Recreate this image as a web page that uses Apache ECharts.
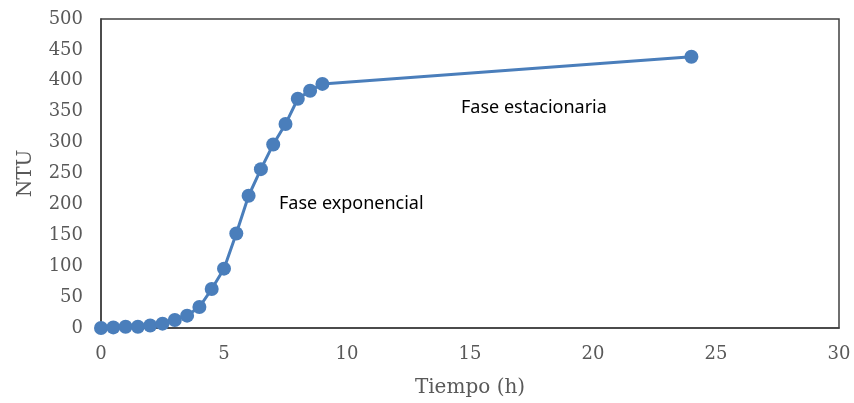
<!DOCTYPE html>
<html>
<head>
<meta charset="utf-8">
<script src="https://cdn.jsdelivr.net/npm/echarts@6/dist/echarts.min.js"></script>
<style>
  html, body { margin: 0; padding: 0; background: #fff; }
  #chart { width: 854px; height: 403px; }
</style>
</head>
<body>
<div id="chart"></div>
<script>
// tiempo (h) y turbidez (NTU)
const tiempo = [0, 0.5, 1, 1.5, 2, 2.5, 3, 3.5, 4, 4.5, 5, 5.5, 6, 6.5, 7, 7.5, 8, 8.5, 9, 24];
const ntu = [0, 1, 2, 2, 4, 7, 13, 20, 34, 63, 96, 153, 214, 257, 297, 330, 371, 384, 395, 439];

const chart = echarts.init(document.getElementById('chart'));

const tickFont = { fontFamily: 'DejaVu Serif', fontSize: 18, color: '#595959' };
const titleFont = { fontFamily: 'DejaVu Serif', fontSize: 20, color: '#595959' };

let option = {
  backgroundColor: '#fff',
  animation: false,
  grid: {
    left: 101, right: 15, top: 19, bottom: 75,
    outerBoundsMode: 'none',
    containLabel: false,
    show: true,
    borderColor: '#404040',
    borderWidth: 1.5
  },
  xAxis: {
    type: 'value',
    min: 0, max: 30, interval: 5,
    name: 'Tiempo (h)',
    nameLocation: 'middle',
    nameGap: 50,
    nameTextStyle: titleFont,
    axisLine: { show: true, lineStyle: { color: '#404040', width: 1.5 } },
    axisTick: { show: false },
    splitLine: { show: false },
    axisLabel: Object.assign({ margin: 17 }, tickFont)
  },
  yAxis: {
    type: 'value',
    min: 0, max: 500, interval: 50,
    name: 'NTU',
    nameLocation: 'middle',
    nameGap: 65,
    nameTextStyle: titleFont,
    axisLine: { show: true, lineStyle: { color: '#404040', width: 1.5 } },
    axisTick: { show: false },
    splitLine: { show: false },
    axisLabel: Object.assign({ margin: 18 }, tickFont)
  },
  graphic: [
    { type: 'text', left: 279, top: 195,
      style: { text: 'Fase exponencial', font: '18px "Noto Sans"', fill: '#000' } },
    { type: 'text', left: 461, top: 99,
      style: { text: 'Fase estacionaria', font: '18px "Noto Sans"', fill: '#000' } }
  ],
  series: [{
    type: 'line',
    data: tiempo.map((t, i) => [t, ntu[i]]),
    symbol: 'circle',
    symbolSize: 14,
    lineStyle: { color: '#4a7ebb', width: 3 },
    itemStyle: { color: '#4a7ebb' }
  }]
};
chart.setOption(option);
</script>
</body>
</html>
